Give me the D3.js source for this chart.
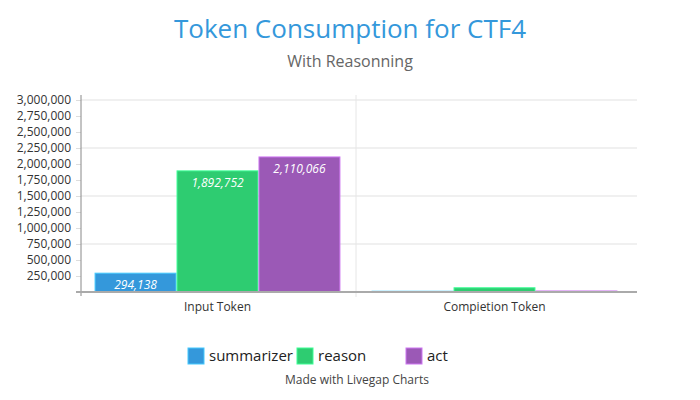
<!DOCTYPE html>
<html>
<head>
<meta charset="utf-8">
<script src="https://cdn.jsdelivr.net/npm/d3@7"></script>
<style>
html,body{margin:0;padding:0;background:#fff;}
svg{display:block;font-family:"Open Sans",sans-serif;}
</style>
</head>
<body>
<svg id="chart" width="700" height="400"></svg>
<script>
const categories = ["Input Token", "Compietion Token"];
const seriesNames = ["summarizer", "reason", "act"];
const summarizer = [294138, 12000];
const reason = [1892752, 66000];
const act = [2110066, 16000];
const yTicks = [250000, 500000, 750000, 1000000, 1250000, 1500000, 1750000, 2000000, 2250000, 2500000, 2750000, 3000000];
const gridTicks = [750000, 1500000, 2250000, 3000000];
const colors = ["#3498db", "#2ecc71", "#9b59b6"];
const seriesValues = [summarizer, reason, act];

const svg = d3.select("#chart");
const fmt = d3.format(",");

const pLeft = 81, pRight = 637, pTop = 100, pBottom = 292;
const x = d3.scaleBand().domain(categories).range([79, 633]);
const xs = d3.scaleBand().domain(seriesNames).range([0, x.bandwidth()]).paddingOuter(0.19);
const y = d3.scaleLinear().domain([0, 3000000]).range([pBottom, pTop]);

// title
svg.append("text").attr("x", 350).attr("y", 37.5).attr("text-anchor", "middle")
  .attr("font-size", 26).attr("fill", "#3498db").text("Token Consumption for CTF4");
svg.append("text").attr("x", 350).attr("y", 66.5).attr("text-anchor", "middle")
  .attr("font-size", 16).attr("fill", "#666").text("With Reasonning");

// grid
svg.append("g").selectAll("line").data(gridTicks).join("line")
  .attr("x1", pLeft).attr("x2", pRight).attr("y1", d => y(d)).attr("y2", d => y(d))
  .attr("stroke", "#ebebeb").attr("stroke-width", 1.5);
svg.append("line").attr("x1", x(categories[1])).attr("x2", x(categories[1])).attr("y1", 95).attr("y2", 297)
  .attr("stroke", "#e6e6e6").attr("stroke-width", 1);

// y axis
const yAxis = d3.axisLeft(y).tickValues(yTicks).tickFormat(fmt).tickSize(5).tickPadding(5);
const gy = svg.append("g").attr("transform", `translate(${pLeft},0)`).call(yAxis);
gy.select(".domain").remove();
gy.selectAll(".tick line").attr("stroke", "#ddd");
gy.selectAll(".tick text").attr("font-size", 12).attr("fill", "#333").attr("font-family", "Open Sans");
svg.append("line").attr("x1", pLeft).attr("x2", pLeft).attr("y1", 95).attr("y2", 296)
  .attr("stroke", "#888").attr("stroke-width", 1);

// bars
const groups = svg.append("g").selectAll("g").data(categories).join("g")
  .attr("transform", d => `translate(${x(d)},0)`);
groups.each(function(cat, ci) {
  const g = d3.select(this);
  seriesNames.forEach((s, si) => {
    const v = seriesValues[si][ci];
    const c = colors[si];
    g.append("rect")
      .attr("x", xs(s) + 0.5).attr("width", xs.bandwidth() - 1)
      .attr("y", y(v)).attr("height", pBottom - y(v))
      .attr("fill", c).attr("stroke", d3.color(c).brighter(0.8)).attr("stroke-width", 1);
    if (pBottom - y(v) > 12) {
      g.append("text").attr("x", xs(s) + xs.bandwidth() / 2).attr("y", y(v) + 16)
        .attr("text-anchor", "middle").attr("font-size", 12).attr("font-style", "italic")
        .attr("fill", "#fff").text(fmt(v));
    }
  });
});

// x axis
svg.append("line").attr("x1", 76).attr("x2", pRight).attr("y1", pBottom).attr("y2", pBottom)
  .attr("stroke", "#aaa").attr("stroke-width", 2);
svg.append("g").selectAll("text").data(categories).join("text")
  .attr("x", d => x(d) + x.bandwidth() / 2).attr("y", 311).attr("text-anchor", "middle")
  .attr("font-size", 12).attr("fill", "#333").text(d => d);

// legend
const legendX = [188, 297, 406];
const leg = svg.append("g").selectAll("g").data(seriesNames).join("g")
  .attr("transform", (d, i) => `translate(${legendX[i]},348)`);
leg.append("rect").attr("width", 16).attr("height", 16)
  .attr("fill", (d, i) => colors[i]).attr("stroke", (d, i) => d3.color(colors[i]).brighter(0.8));
leg.append("text").attr("x", 21).attr("y", 13).attr("font-size", 15).attr("fill", "#222").text(d => d);

svg.append("text").attr("x", 357).attr("y", 384).attr("text-anchor", "middle")
  .attr("font-size", 12).attr("fill", "#444").text("Made with Livegap Charts");
</script>
</body>
</html>
